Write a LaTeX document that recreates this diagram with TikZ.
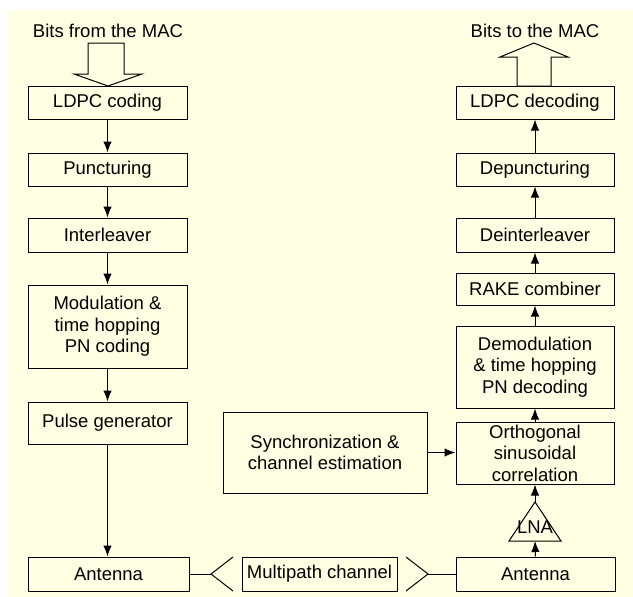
\documentclass[tikz,border=0pt]{standalone}
\usepackage{fontspec}
\setmainfont{Liberation Sans}
\usetikzlibrary{arrows.meta}
\definecolor{bgyellow}{HTML}{FFFFE4}
\tikzset{
  blk/.style={draw, line width=1pt, align=center, inner sep=0pt,
    font=\fontsize{18.5}{21.5}\selectfont},
  lbl/.style={inner sep=0pt, font=\fontsize{18.5}{21.5}\selectfont},
  conn/.style={line width=1pt, -{Latex[length=11pt,width=8.5pt]}},
  plain/.style={line width=1pt},
  hollow/.style={draw, line width=1pt, fill=bgyellow, line join=miter}
}
\begin{document}
\begin{tikzpicture}[x=1pt,y=-1pt]
\useasboundingbox (0,0) rectangle (633,597);
\fill[bgyellow] (7,10) rectangle (633,597);

% texts at the top
\node[lbl] (bitsin) at (108,31) {Bits from the MAC};
\node[lbl] (bitsout) at (535,31) {Bits to the MAC};

% left chain
\node[blk, minimum width=159pt, minimum height=33pt] (ldpc) at (107.5,102.5) {LDPC coding};
\node[blk, minimum width=159pt, minimum height=33pt] (punct) at (107.5,169.5) {Puncturing};
\node[blk, minimum width=159pt, minimum height=34pt] (inter) at (107.5,235) {Interleaver};
\node[blk, minimum width=159pt, minimum height=83pt] (mod) at (107.5,326.5) {Modulation \&\\time hopping\\PN coding};
\node[blk, minimum width=159pt, minimum height=42pt] (pulse) at (107.5,423) {Pulse generator};
\node[blk, minimum width=161pt, minimum height=34pt] (antL) at (108.5,574) {Antenna};

% right chain
\node[blk, minimum width=158pt, minimum height=33pt] (ldpcd) at (535,102.5) {LDPC decoding};
\node[blk, minimum width=158pt, minimum height=33pt] (depunct) at (535,169.5) {Depuncturing};
\node[blk, minimum width=158pt, minimum height=34pt] (deint) at (535,235) {Deinterleaver};
\node[blk, minimum width=158pt, minimum height=32pt] (rake) at (535,289) {RAKE combiner};
\node[blk, minimum width=158pt, minimum height=82pt] (demod) at (535,367) {Demodulation\\\& time hopping\\PN decoding};
\node[blk, minimum width=158pt, minimum height=62pt] (ortho) at (535,453) {Orthogonal\\sinusoidal\\correlation};
\node[blk, minimum width=159pt, minimum height=34pt] (antR) at (535.5,574) {Antenna};

% middle
\node[blk, minimum width=204pt, minimum height=81pt] (sync) at (325,452.5) {Synchronization \&\\channel estimation};
\node[blk, minimum width=155pt, minimum height=34pt] (multi) at (319.5,574) {Multipath channel};

% LNA
\coordinate (lnatop) at (535,502);
\coordinate (lnabot) at (535,541);
\draw[plain, line join=miter] (509,541) -- (lnatop) -- (561,541) -- cycle;
\node[lbl] (lna) at (535,527) {LNA};

% hollow arrows
\draw[hollow] (88,43) -- (124,43) -- (124,74) -- (142,74) -- (108,86) -- (74,74) -- (88,74) -- cycle;
\draw[hollow] (517,86) -- (517,57) -- (500,57) -- (534,43) -- (568,57) -- (551,57) -- (551,86) -- cycle;

% left connectors
\draw[conn] (ldpc.south) -- (punct.north);
\draw[conn] (punct.south) -- (inter.north);
\draw[conn] (inter.south) -- (mod.north);
\draw[conn] (mod.south) -- (pulse.north);
\draw[conn] (pulse.south) -- (pulse.south |- antL.north);

% right connectors
\draw[conn] (depunct.north) -- (ldpcd.south);
\draw[conn] (deint.north) -- (depunct.south);
\draw[conn] (rake.north) -- (deint.south);
\draw[conn] (demod.north) -- (rake.south);
\draw[conn] (ortho.north) -- (demod.south);
\draw[conn] (lnatop) -- (ortho.south);
\draw[conn] (antR.north) -- (lnabot);
\draw[conn] (sync.east) -- (sync.east -| ortho.west);

% antennas
\coordinate (vL) at (211,574);
\coordinate (vR) at (428,574);
\draw[plain] (antL.east) -- (vL);
\draw[plain] (233,557) -- (vL) -- (233,591);
\draw[plain] (antR.west) -- (vR);
\draw[plain] (406,557) -- (vR) -- (406,591);
\end{tikzpicture}
\end{document}
